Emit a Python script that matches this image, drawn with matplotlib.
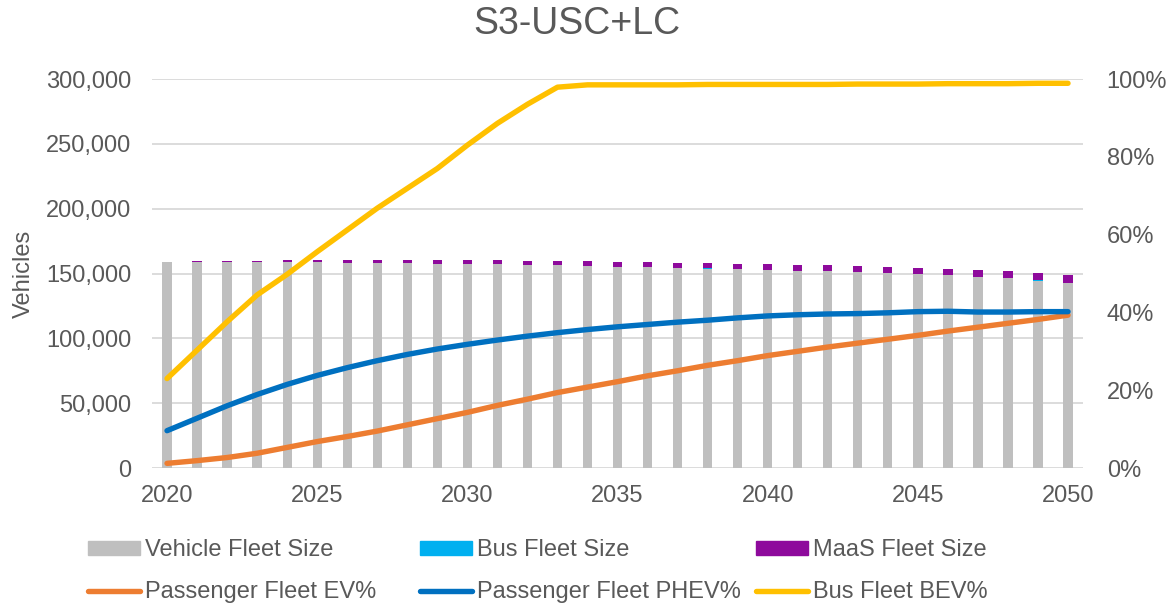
import matplotlib
matplotlib.use("Agg")
import matplotlib.pyplot as plt
from matplotlib.patches import Patch
from matplotlib.lines import Line2D
from matplotlib.ticker import FuncFormatter, PercentFormatter

years = list(range(2020, 2051))

# fleet sizes (vehicles)
vehicle_fleet = [
    158500, 158500, 158600, 158600, 158600, 158500, 158300, 158000, 157800, 157600,
    157400, 157000, 156600, 156300, 155800, 155200, 154800, 154300, 153800, 153300,
    152800, 152200, 151600, 151000, 150300, 149600, 148600, 147400, 146200, 144600,
    142800,
]
bus_fleet = [100] * 31
maas_fleet = [
    500, 700, 900, 1200, 1500, 1800, 2000, 2300, 2600, 2800,
    3000, 3200, 3300, 3400, 3500, 3600, 3700, 3800, 3900, 4000,
    4200, 4300, 4500, 4600, 4800, 4900, 5000, 5200, 5300, 5500,
    5600,
]

# shares (%)
ev_share = [
    1.2, 1.9, 2.7, 3.8, 5.3, 6.8, 8.1, 9.5, 11.1, 12.7,
    14.3, 16.1, 17.7, 19.4, 20.8, 22.2, 23.7, 25.0, 26.4, 27.6,
    28.9, 30.0, 31.1, 32.1, 33.1, 34.1, 35.2, 36.2, 37.2, 38.2,
    39.3,
]
phev_share = [
    9.6, 12.8, 16.0, 18.9, 21.5, 23.8, 25.8, 27.6, 29.2, 30.6,
    31.8, 32.9, 33.9, 34.8, 35.6, 36.3, 36.9, 37.5, 38.0, 38.6,
    39.1, 39.4, 39.6, 39.7, 39.9, 40.2, 40.3, 40.1, 40.1, 40.2,
    40.2,
]
bus_bev_share = [
    23.0, 30.3, 37.6, 44.5, 49.8, 55.6, 61.2, 66.8, 71.9, 77.0,
    83.0, 88.6, 93.5, 97.9, 98.5, 98.5, 98.5, 98.5, 98.6, 98.6,
    98.6, 98.6, 98.6, 98.7, 98.7, 98.7, 98.8, 98.8, 98.8, 98.9,
    98.9,
]

TEXT = "#595959"
GRID = "#D9D9D9"
C_VEH = "#BFBFBF"
C_BUS = "#00B0F0"
C_MAAS = "#8E0A9C"
C_EV = "#ED7D31"
C_PHEV = "#0070C0"
C_BEV = "#FFC000"
FS = 17

plt.rcParams["font.family"] = ["Liberation Sans", "DejaVu Sans"]
plt.rcParams["font.size"] = FS

fig = plt.figure(figsize=(11.73, 6.05), dpi=100)
ax = fig.add_axes([0.1296, 0.2264, 0.7937, 0.643])
ax2 = ax.twinx()

w = 0.31
ax.bar(years, vehicle_fleet, width=w, color=C_VEH, zorder=2)
ax.bar(years, bus_fleet, width=w, bottom=vehicle_fleet, color=C_BUS, zorder=2)
stack = [a + b for a, b in zip(vehicle_fleet, bus_fleet)]
ax.bar(years, maas_fleet, width=w, bottom=stack, color=C_MAAS, zorder=2)

lw = 3.9
style = dict(lw=lw, solid_capstyle="round", solid_joinstyle="round")
ax2.plot(years, ev_share, color=C_EV, **style)
ax2.plot(years, phev_share, color=C_PHEV, **style)
ax2.plot(years, bus_bev_share, color=C_BEV, **style)

ax.set_xlim(2019.5, 2050.5)
ax.set_ylim(0, 300000)
ax2.set_ylim(0, 100)
ax.set_yticks(range(0, 300001, 50000))
ax2.set_yticks(range(0, 101, 20))
ax.set_xticks(range(2020, 2051, 5))
ax.yaxis.set_major_formatter(FuncFormatter(lambda v, p: f"{int(v):,}"))
ax2.yaxis.set_major_formatter(PercentFormatter(decimals=0))

ax.grid(axis="y", color=GRID, lw=1.3, zorder=0)
ax.set_axisbelow(True)
for a in (ax, ax2):
    for s in a.spines.values():
        s.set_visible(False)
    a.tick_params(length=0, colors=TEXT, labelsize=FS)
ax.tick_params(axis="y", pad=15)
ax.tick_params(axis="x", pad=12)
ax2.tick_params(axis="y", pad=17)

ax.set_ylabel("Vehicles", color=TEXT, fontsize=FS, labelpad=8)
fig.suptitle("S3-USC+LC", x=0.492, y=0.99, color=TEXT, fontsize=27)

# legend, laid out as three columns of two entries
cols = [
    [(Patch(color=C_VEH), "Vehicle Fleet Size"),
     (Line2D([], [], color=C_EV, lw=lw, solid_capstyle="round"), "Passenger Fleet EV%")],
    [(Patch(color=C_BUS), "Bus Fleet Size"),
     (Line2D([], [], color=C_PHEV, lw=lw, solid_capstyle="round"), "Passenger Fleet PHEV%")],
    [(Patch(color=C_MAAS), "MaaS Fleet Size"),
     (Line2D([], [], color=C_BEV, lw=lw, solid_capstyle="round"), "Bus Fleet BEV%")],
]
col_x = [0.075, 0.358, 0.6445]
for x, entries in zip(col_x, cols):
    handles, labels = zip(*entries)
    leg = fig.legend(handles, labels, loc="center left", bbox_to_anchor=(x, 0.0555),
                     frameon=False, fontsize=FS, handlelength=2.2, handleheight=0.55,
                     handletextpad=0.2, labelspacing=0.85, borderaxespad=0,
                     borderpad=0)
    for t in leg.get_texts():
        t.set_color(TEXT)

fig.savefig("out.png", dpi=100)
